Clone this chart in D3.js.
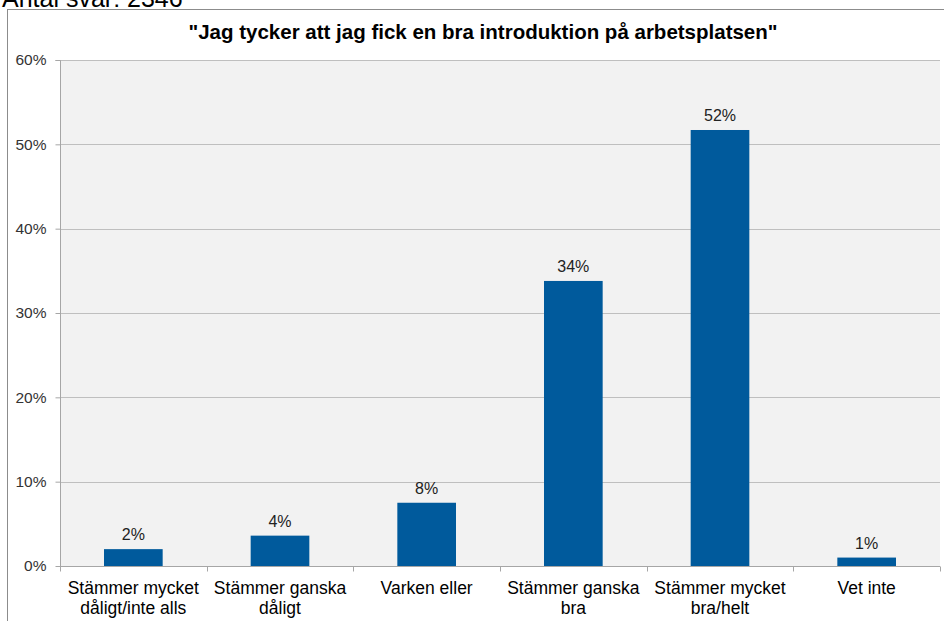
<!DOCTYPE html>
<html><head><meta charset="utf-8">
<script src="https://cdn.jsdelivr.net/npm/d3@7"></script>
<style>body{margin:0;background:#fff;} svg{display:block;font-family:"Liberation Sans",Arial,sans-serif;}</style>
</head><body>
<svg id="c" width="944" height="621"></svg>
<script>
const categories = [["Stämmer mycket","dåligt/inte alls"],["Stämmer ganska","dåligt"],["Varken eller"],["Stämmer ganska","bra"],["Stämmer mycket","bra/helt"],["Vet inte"]];
const values = [2.0, 3.6, 7.5, 33.8, 51.7, 1.0];
const yTicks = [0,10,20,30,40,50,60];
const title = "\"Jag tycker att jag fick en bra introduktion på arbetsplatsen\"";
const topNote = "Antal svar: 2346";

const svg = d3.select("#c");
const m = {left:60, right:940, top:60, bottom:566};
svg.append("text").attr("x",2).attr("y",7).attr("font-size",25).attr("fill","#000").text(topNote);
svg.append("rect").attr("x",7.5).attr("y",9.5).attr("width",960).attr("height",640).attr("fill","#fff").attr("stroke","#8c8c8c");
svg.append("text").attr("x",483).attr("y",39).attr("text-anchor","middle").attr("font-size",20.5).attr("font-weight","bold").text(title);

const x = d3.scaleBand().domain(d3.range(categories.length)).range([m.left,m.right]).paddingInner(0).paddingOuter(0);
const y = d3.scaleLinear().domain([0,60]).range([m.bottom,m.top]);

svg.append("rect").attr("x",m.left).attr("y",m.top).attr("width",m.right-m.left).attr("height",m.bottom-m.top).attr("fill","#f2f2f2");
svg.append("g").selectAll("line").data(yTicks.filter(d=>d>0)).join("line")
  .attr("x1",m.left).attr("x2",m.right).attr("y1",d=>Math.round(y(d))+0.5).attr("y2",d=>Math.round(y(d))+0.5).attr("stroke","#bfbfbf");

const bw = x.bandwidth()*0.4;
svg.append("g").selectAll("rect").data(values).join("rect")
  .attr("x",(d,i)=>x(i)+x.bandwidth()/2-bw/2).attr("width",bw)
  .attr("y",d=>y(d)).attr("height",d=>y(0)-y(d)).attr("fill","#005a9c");
svg.append("g").selectAll("text").data(values).join("text")
  .attr("x",(d,i)=>x(i)+x.bandwidth()/2).attr("y",d=>y(d)-9).attr("text-anchor","middle")
  .attr("font-size",16).attr("fill","#222").text(d=>Math.round(d)+"%");

const ya = svg.append("g").attr("transform",`translate(${m.left+0.5},0)`)
  .call(d3.axisLeft(y).tickValues(yTicks).tickSize(5).tickPadding(9).tickFormat(d=>d+"%"));
ya.select(".domain").attr("stroke","#a6a6a6").attr("d",`M-5,${m.top+0.5}H0V${m.bottom+0.5}`);
ya.selectAll(".tick line").attr("stroke","#a6a6a6");
ya.selectAll(".tick text").attr("font-size",15.5).attr("fill","#333").attr("font-family","Liberation Sans, Arial, sans-serif");

const xa = svg.append("g").attr("transform",`translate(0,${m.bottom+0.5})`);
xa.append("line").attr("x1",m.left).attr("x2",m.right).attr("stroke","#a6a6a6");
xa.selectAll("line.t").data(d3.range(categories.length+1)).join("line").attr("class","t")
  .attr("x1",i=>Math.round(m.left+i*x.bandwidth())+0.5).attr("x2",i=>Math.round(m.left+i*x.bandwidth())+0.5)
  .attr("y1",0).attr("y2",5).attr("stroke","#a6a6a6");
const cl = svg.append("g").selectAll("text").data(categories).join("text")
  .attr("text-anchor","middle").attr("font-size",17.5).attr("fill","#000");
cl.each(function(lines,i){
  d3.select(this).selectAll("tspan").data(lines).join("tspan")
    .attr("x",x(i)+x.bandwidth()/2).attr("y",(d,j)=>594+j*20).text(d=>d);
});
</script>
</body></html>
